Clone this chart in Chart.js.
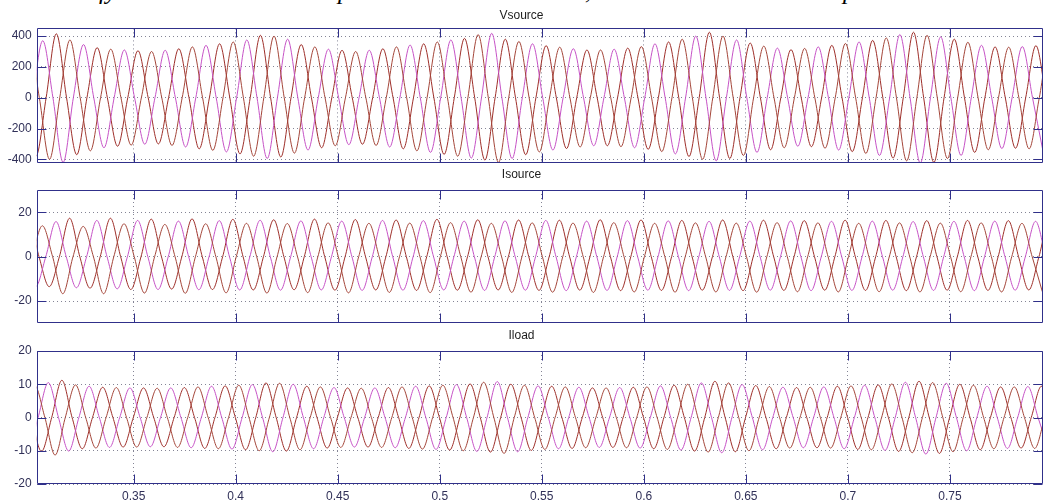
<!DOCTYPE html>
<html><head><meta charset="utf-8">
<script src="https://cdn.jsdelivr.net/npm/chart.js@4.4.0/dist/chart.umd.min.js"></script>
<style>
html,body{margin:0;padding:0;background:#fff;width:1046px;height:502px;overflow:hidden;position:relative}
canvas{position:absolute;left:0}
#toptext{position:absolute;left:0;top:0;width:1046px;height:10px;overflow:hidden;font:italic 25px 'Liberation Serif',serif;color:#000;line-height:25px}
#toptext span{position:absolute;top:-22px;white-space:nowrap}
</style></head><body>
<div id="toptext"><span style="left:99px">fy</span><span style="left:338px">p</span><span style="left:585px">,</span><span style="left:843px">p</span></div>
<canvas id="c1" width="1046" height="177" style="top:0px"></canvas>
<canvas id="c2" width="1046" height="173" style="top:165px"></canvas>
<canvas id="c3" width="1046" height="176" style="top:326px"></canvas>
<script>
// ---- data ----
const period = 0.02;               // 50 Hz
const xMin = 0.3025, xMax = 0.7956;
const xTicks = [0.35,0.4,0.45,0.5,0.55,0.6,0.65,0.7,0.75];
const xTickLabels = ['0.35','0.4','0.45','0.5','0.55','0.6','0.65','0.7','0.75'];

const titles = ['Vsource','Isource','Iload'];
const seriesNames = ['phase c','phase a','phase b'];

// Vsource: successive positive peaks (every 1/3 period) and negative peak magnitudes
const vStart = 0.27879;
const vPeaks = [365,360,362,360,370,415,375,345,325,315,310,305,300,308,318,330,340,350,362,375,
  405,400,380,345,330,315,308,300,308,318,330,342,350,362,375,385,410,418,380,365,
  350,338,328,318,310,310,315,322,332,350,362,380,400,425,400,375,355,335,322,312,
  320,330,340,352,362,372,388,410,425,405,395,380,360,340,330,328,332,338,340];
const vTroughs = [360,365,370,380,400,420,370,345,325,315,308,302,300,310,320,332,342,352,365,380,
  395,385,360,340,325,312,305,302,310,320,332,345,355,368,380,392,405,420,395,370,
  352,340,330,320,312,312,318,325,335,350,365,382,400,410,395,375,355,338,325,315,
  318,328,340,350,362,375,392,410,425,420,395,375,355,338,330,328,332,338,340,340];
const vTicks = [-400,-200,0,200,400];
const vTickLabels = ['-400','-200','0','200','400'];

// Isource
const isStart = 0.28529;
const isPeaks = [14.0,16.0,17.0,13.9,15.8,17.3,13.6,16.3,17.3,14.8,16.3,16.9,14.5,16.0,17.0,14.8,16.2,16.8,
  15.0,16.4,16.6,14.9,16.1,16.9,15.2,16.0,16.7,15.0,16.3,16.5,15.1,16.2,16.8,15.3,16.0,16.6,
  15.0,16.1,16.5,15.2,16.3,16.4,15.1,16.0,16.6,15.3,16.2,16.5,15.0,16.1,16.3,15.2,15.9,16.5,
  15.1,16.0,16.4,15.3,16.1,16.2,15.2,15.9,16.4,15.0,16.0,16.3,15.2,15.8,16.2,15.1,15.9,16.3,
  15.2,16.0,16.2,15.0,15.9,16.3];
const isTroughs = [14.3,16.5,13.5,13.5,16.7,14.0,14.2,16.7,14.5,14.8,16.4,14.8,14.6,16.5,14.9,14.8,16.3,15.0,
  15.0,16.4,15.1,14.9,16.2,15.0,15.1,16.3,15.2,15.0,16.1,15.1,15.2,16.2,15.0,15.1,16.0,15.2,
  15.0,16.1,15.1,15.2,16.0,15.3,15.1,16.1,15.2,15.3,15.9,15.1,15.2,16.0,15.3,15.1,15.9,15.2,
  15.3,16.0,15.1,15.2,15.8,15.3,15.1,15.9,15.2,15.2,15.8,15.1,15.3,15.9,15.2,15.1,15.8,15.3,
  15.2,15.9,15.1,15.0,15.8,15.2,15.1];
const isTicks = [-20,0,20];
const isTickLabels = ['-20','0','20'];

// Iload
const ilStart = 0.28151;
const ilPeaks = [9.6,9.6,9.7,9.6,10.5,11.2,9.8,9.4,9.1,9.0,8.9,8.9,8.8,8.9,9.0,9.2,9.4,9.5,9.7,9.9,
  10.4,10.3,10.0,9.4,9.2,9.0,8.9,8.8,8.9,9.0,9.2,9.4,9.5,9.7,9.9,10.1,10.6,10.8,10.0,9.7,
  9.5,9.4,9.2,9.1,8.9,8.9,9.0,9.1,9.2,9.5,9.7,10.0,10.4,10.9,10.4,9.9,9.6,9.3,9.1,9.0,
  9.1,9.2,9.4,9.5,9.7,9.8,10.1,10.6,10.9,10.5,10.3,10.0,9.7,9.4,9.2,9.2,9.3,9.4,9.4];
const ilTroughs = [9.6,9.7,9.8,10.2,11.3,10.1,9.4,9.2,9.0,8.9,8.9,8.8,8.8,9.0,9.1,9.3,9.4,9.5,9.7,10.0,
  10.3,10.1,9.7,9.4,9.2,9.0,8.9,8.9,9.0,9.1,9.3,9.5,9.6,9.8,10.0,10.2,10.4,10.8,10.3,9.9,
  9.6,9.4,9.3,9.1,9.0,9.0,9.1,9.2,9.4,9.6,9.8,10.1,10.4,10.6,10.3,10.0,9.7,9.4,9.2,9.1,
  9.1,9.2,9.4,9.6,9.7,9.9,10.2,10.6,11.0,10.8,10.3,10.0,9.7,9.4,9.3,9.2,9.3,9.4,9.4,9.4];
const ilTicks = [-20,-10,0,10,20];
const ilTickLabels = ['-20','-10','0','10','20'];

// ---- styles ----
const phaseColors = ['#a4463a','#c653c6','#9e2f2a'];
const axisColor = '#30308a';
const labelColor = '#303058';
const gridColor = 'rgba(110,110,130,0.85)';
const FONT = "'Liberation Sans', Arial, sans-serif";
const TL = 9;

// build one phase: its own peaks and troughs, with zero crossings between them
function phasePoints(t0, peaks, troughs, p) {
  const step = period / 3, ext = [];
  for (let i = p; i < peaks.length; i += 3) ext.push({x: t0 + i * step, y: peaks[i]});
  for (let j = 0; j < troughs.length; j++) {
    if ((((j - 1) % 3) + 3) % 3 === p) ext.push({x: t0 + (j - 1) * step + period / 2, y: -troughs[j]});
  }
  ext.sort((a, b) => a.x - b.x);
  const out = [];
  ext.forEach((pt, k) => {
    if (k > 0) out.push({x: (ext[k - 1].x + pt.x) / 2, y: 0});
    out.push(pt);
  });
  return out;
}

const boxPlugin = {
  id: 'matlabBox',
  afterDatasetsDraw(chart) {
    const {ctx, chartArea: a, scales: {x, y}} = chart;
    const L = Math.round(a.left) + 0.5, R = Math.round(a.right) - 0.5;
    const T = Math.round(a.top) + 0.5, B = Math.round(a.bottom) - 0.5;
    ctx.save();
    ctx.strokeStyle = axisColor; ctx.lineWidth = 1;
    ctx.beginPath();
    ctx.rect(L, T, R - L, B - T);
    x.ticks.forEach(t => {
      const px = Math.round(x.getPixelForValue(t.value)) + 0.5;
      ctx.moveTo(px, T); ctx.lineTo(px, T + TL);
      ctx.moveTo(px, B); ctx.lineTo(px, B - TL);
    });
    y.ticks.forEach(t => {
      const py = Math.round(y.getPixelForValue(t.value)) + 0.5;
      ctx.moveTo(L, py); ctx.lineTo(L + TL, py);
      ctx.moveTo(R, py); ctx.lineTo(R - TL, py);
    });
    ctx.stroke();
    ctx.restore();
  }
};

function makeChart(id, cfg) {
  const datasets = [0, 1, 2].map(p => ({
    label: seriesNames[p],
    data: phasePoints(cfg.start, cfg.peaks, cfg.troughs, p),
    borderColor: phaseColors[p],
    borderWidth: 1,
    pointRadius: 0,
    fill: false,
    cubicInterpolationMode: 'monotone'
  }));
  return new Chart(document.getElementById(id), {
    type: 'line',
    data: {datasets},
    plugins: [boxPlugin],
    options: {
      responsive: false, animation: false, devicePixelRatio: 1,
      layout: {padding: {left: 0, right: 3, top: 0, bottom: cfg.padBottom}},
      plugins: {
        legend: {display: false}, tooltip: {enabled: false},
        title: {display: true, text: cfg.title, color: '#1c1c1c',
          font: {family: FONT, size: 12, weight: 'normal', lineHeight: 1.2},
          padding: {top: cfg.titleTop, bottom: cfg.titleBottom}}
      },
      scales: {
        x: {
          type: 'linear', min: xMin, max: xMax,
          afterBuildTicks: s => { s.ticks = xTicks.map(v => ({value: v})); },
          afterFit: s => { s.height = cfg.xHeight; },
          ticks: {display: cfg.xLabels, color: labelColor, font: {family: FONT, size: 12}, padding: 5,
            maxRotation: 0, autoSkip: false, callback: (v, i) => xTickLabels[i]},
          grid: {color: gridColor, drawTicks: false, lineWidth: 1},
          border: {display: false, dash: [1, 3]}
        },
        y: {
          type: 'linear', min: cfg.yMin, max: cfg.yMax,
          afterBuildTicks: s => { s.ticks = cfg.yTicks.map(v => ({value: v})); },
          afterFit: s => { s.width = 36.7; },
          ticks: {color: labelColor, font: {family: FONT, size: 12}, padding: 5,
            callback: (v, i) => cfg.yTickLabels[i]},
          grid: {color: gridColor, drawTicks: false, lineWidth: 1},
          border: {display: false, dash: [1, 3]}
        }
      }
    }
  });
}

makeChart('c1', {title: titles[0], start: vStart, peaks: vPeaks, troughs: vTroughs,
  yMin: -422, yMax: 450, yTicks: vTicks, yTickLabels: vTickLabels,
  titleTop: 8, titleBottom: 6, padBottom: 0.3, xHeight: 14, xLabels: false});
makeChart('c2', {title: titles[1], start: isStart, peaks: isPeaks, troughs: isTroughs,
  yMin: -30, yMax: 30, yTicks: isTicks, yTickLabels: isTickLabels,
  titleTop: 2.8, titleBottom: 7.8, padBottom: 0.7, xHeight: 14, xLabels: false});
makeChart('c3', {title: titles[2], start: ilStart, peaks: ilPeaks, troughs: ilTroughs,
  yMin: -20, yMax: 20, yTicks: ilTicks, yTickLabels: ilTickLabels,
  titleTop: 2.8, titleBottom: 7.8, padBottom: 0, xHeight: 18, xLabels: true});
</script>
</body></html>
